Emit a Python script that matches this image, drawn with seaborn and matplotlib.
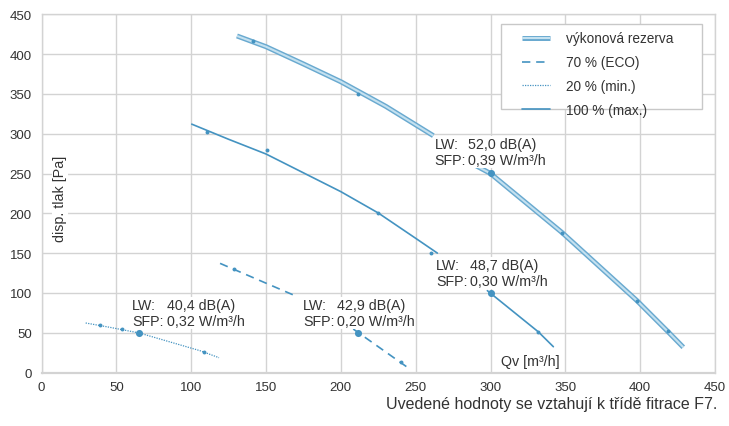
import matplotlib
matplotlib.use("Agg")
import matplotlib.pyplot as plt
import seaborn as sns
import pandas as pd
from matplotlib.lines import Line2D
from matplotlib.patches import Rectangle

# ---------------- data ----------------
# výkonová rezerva (thick band), two visible segments
rez1_x = [130.6, 150, 175, 200, 230, 261.8]
rez1_y = [422.8, 409.3, 387.6, 365.3, 334.4, 297.5]
rez2_x = [290.3, 300.0, 348.0, 398.0, 419.0, 428.8]
rez2_y = [259.8, 250.0, 175.5, 90.0, 50.5, 31.7]
rez_dot_x = [141.1, 211.3, 348.0, 398.1, 418.8]
rez_dot_y = [416.8, 349.9, 174.9, 89.4, 51.8]

# 100 % (max.)
max1_x = [100.4, 125, 150, 200, 225, 250, 264.5]
max1_y = [312.0, 293.0, 274.5, 227.2, 200.4, 168.6, 150.0]
max2_x = [297.9, 332.0, 342.0]
max2_y = [102.8, 51.0, 32.4]
max_dot_x = [110.4, 150.5, 225.0, 260.3, 332.0]
max_dot_y = [302.1, 279.9, 200.4, 149.8, 50.5]

# 70 % (ECO)
eco1_x = [119.3, 169.4]
eco1_y = [137.1, 96.5]
eco2_x = [208.3, 245.1]
eco2_y = [54.6, 5.7]
eco_dot_x = [128.8, 240.0]
eco_dot_y = [130.0, 12.8]

# 20 % (min.)
min_x = [29.5, 45.0, 65.4, 105.9, 118.6]
min_y = [62.2, 57.0, 49.6, 27.4, 18.6]
min_dot_x = [39.1, 54.0, 108.6]
min_dot_y = [59.7, 54.3, 25.4]

# operating points
op_x = [65.4, 211.3, 300.1, 300.1]
op_y = [49.6, 49.6, 99.9, 250.2]

lw_values = ["40,4 dB(A)", "42,9 dB(A)", "52,0 dB(A)", "48,7 dB(A)"]
sfp_values = ["0,32 W/m³/h", "0,20 W/m³/h", "0,39 W/m³/h", "0,30 W/m³/h"]

legend_labels = ["výkonová rezerva", "70 % (ECO)", "20 % (min.)", "100 % (max.)"]
x_ticks = [0, 50, 100, 150, 200, 250, 300, 350, 400, 450]
y_ticks = [0, 50, 100, 150, 200, 250, 300, 350, 400, 450]

# ---------------- style ----------------
sns.set_theme(style="white")
plt.rcParams["font.family"] = ["Liberation Sans", "DejaVu Sans"]

LINE = "#4493c1"
BAND_OUT = "#6aaad0"
BAND_IN = "#c4e1f0"
GRID = "#d3d3d3"
TXT = "#333333"

fig = plt.figure(figsize=(7.29, 4.27), dpi=100)
ax = fig.add_axes([41.5 / 729, 1 - 373.5 / 427, (715 - 41.5) / 729, (373.5 - 15.3) / 427])

def seg(x, y, **kw):
    df = pd.DataFrame({"x": x, "y": y})
    sns.lineplot(data=df, x="x", y="y", ax=ax, sort=False, estimator=None, legend=False, **kw)

# reserve band
for xs, ys in [(rez1_x, rez1_y), (rez2_x, rez2_y)]:
    seg(xs, ys, color=BAND_OUT, linewidth=3.6, zorder=3, solid_capstyle="butt", solid_joinstyle="round")
    seg(xs, ys, color=BAND_IN, linewidth=1.5, zorder=3.1, solid_capstyle="butt", solid_joinstyle="round")
# 100 %
seg(max1_x, max1_y, color=LINE, linewidth=1.2, zorder=3)
seg(max2_x, max2_y, color=LINE, linewidth=1.2, zorder=3)
# 70 %
for xs, ys in [(eco1_x, eco1_y), (eco2_x, eco2_y)]:
    seg(xs, ys, color=LINE, linewidth=1.2, dashes=(5, 3.5), zorder=3)
# 20 %
seg(min_x, min_y, color=LINE, linewidth=0.9, dashes=(1, 1), zorder=3)

# small dots
dots = pd.DataFrame({
    "x": rez_dot_x + max_dot_x + eco_dot_x + min_dot_x,
    "y": rez_dot_y + max_dot_y + eco_dot_y + min_dot_y,
})
sns.scatterplot(data=dots, x="x", y="y", ax=ax, color=LINE, s=8, linewidth=0, zorder=4, legend=False)
ops = pd.DataFrame({"x": op_x, "y": op_y})
sns.scatterplot(data=ops, x="x", y="y", ax=ax, color=LINE, s=26, linewidth=0, zorder=4, legend=False)

# axes
ax.set_xlim(0, 450)
ax.set_ylim(0, 450)
ax.set_xticks(x_ticks)
ax.set_yticks(y_ticks)
ax.set_xticklabels([str(t) for t in x_ticks])
ax.set_yticklabels([str(t) for t in y_ticks])
ax.grid(True, color=GRID, linewidth=1.0, zorder=0)
ax.set_axisbelow(True)
for s in ax.spines.values():
    s.set_color(GRID)
    s.set_linewidth(1.0)
ax.spines["bottom"].set_linewidth(1.6)
ax.tick_params(axis="both", which="both", length=3, width=1, color=GRID,
               labelsize=9.5, labelcolor=TXT, pad=4, direction="out")
ax.tick_params(axis="x", pad=3)
ax.set_xlabel("")
ax.set_ylabel("")

box = dict(facecolor="white", edgecolor="none", pad=0.6)
fs = 10.3
# annotations: (LW x, value x, baseline LW, baseline SFP)
ann_pos = [(60.7, 83.6, 79.8, 59.7),
           (174.7, 197.2, 79.8, 59.7),
           (262.5, 285.2, 281.7, 261.9),
           (263.8, 286.6, 130.0, 110.3)]
for (xl, xv, y1, y2), lwv, sfv in zip(ann_pos, lw_values, sfp_values):
    ax.text(xv, y1, lwv, fontsize=fs, color=TXT, va="baseline", ha="left", bbox=box, zorder=6)
    ax.text(xv, y2, sfv, fontsize=fs, color=TXT, va="baseline", ha="left", bbox=box, zorder=6)
    ax.text(xl, y1, "LW:", fontsize=fs, color=TXT, va="baseline", ha="left", zorder=7)
    ax.text(xl, y2, "SFP:", fontsize=fs, color=TXT, va="baseline", ha="left", zorder=7)

ax.text(306.8, 14.8, "Qv [m³/h]", fontsize=fs, color=TXT, va="center", ha="left", zorder=6)
ax.text(12.5, 219, "disp. tlak [Pa]", fontsize=fs, color=TXT, rotation=90,
        va="center", ha="center", bbox=box, zorder=6)

# legend
handles = [
    (Line2D([], [], color=BAND_OUT, lw=3.6, solid_capstyle="butt"),
     Line2D([], [], color=BAND_IN, lw=1.5, solid_capstyle="butt")),
    Line2D([], [], color=LINE, lw=1.2, dashes=(5, 3.5)),
    Line2D([], [], color=LINE, lw=0.9, dashes=(1, 1)),
    Line2D([], [], color=LINE, lw=1.2),
]
ax.add_patch(Rectangle((0.6818, 0.7356), 0.9803 - 0.6818, 0.9729 - 0.7356, transform=ax.transAxes,
                       facecolor="white", edgecolor="#c8c8c8", linewidth=1.0, zorder=5))
leg = ax.legend(handles, legend_labels, loc="upper left", bbox_to_anchor=(0.713, 0.952),
                frameon=False, borderpad=0, borderaxespad=0, handlelength=2.1,
                handletextpad=1.15, labelspacing=0.72, fontsize=9.8, labelcolor=TXT)
leg.set_zorder(6)

fig.text(717 / 729, 1 - 409.5 / 427, "Uvedené hodnoty se vztahují k třídě fitrace F7.",
         fontsize=11.5, color=TXT, ha="right", va="baseline")

fig.savefig("out.png", dpi=100)
